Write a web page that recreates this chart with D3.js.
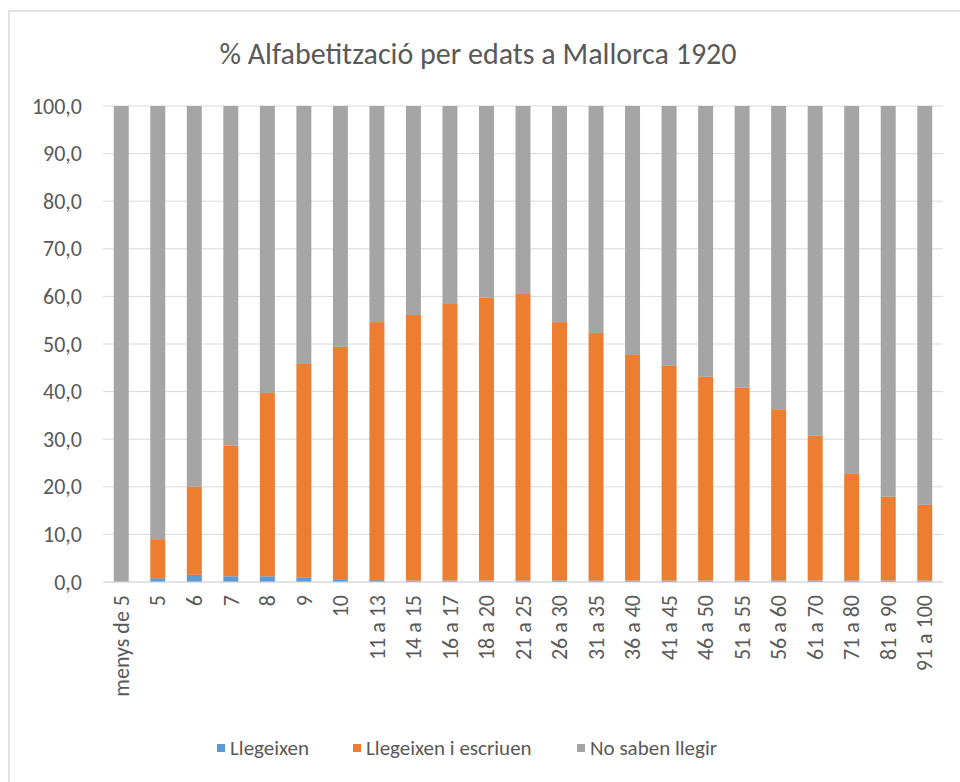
<!DOCTYPE html>
<html>
<head>
<meta charset="utf-8">
<script src="https://cdn.jsdelivr.net/npm/d3@7"></script>
<style>
  body { margin: 0; background: #fff; }
  text { font-family: Carlito, "Open Sans", "Liberation Sans", sans-serif; fill: #595959; }
</style>
</head>
<body>
<div id="chart"></div>
<script>
const categories = ["menys de 5", "5", "6", "7", "8", "9", "10", "11 a 13", "14 a 15", "16 a 17",
  "18 a 20", "21 a 25", "26 a 30", "31 a 35", "36 a 40", "41 a 45", "46 a 50", "51 a 55",
  "56 a 60", "61 a 70", "71 a 80", "81 a 90", "91 a 100"];
// Llegeixen (només llegir)
const llegeixen = [0, 0.8, 1.5, 1.2, 1.2, 1.0, 0.6, 0.4, 0.3, 0.3, 0.3, 0.3, 0.3, 0.3, 0.3, 0.3, 0.3, 0.3, 0.3, 0.3, 0.3, 0.3, 0.3];
// Llegeixen i escriuen
const escriuen = [0, 8.2, 18.5, 27.4, 38.5, 44.8, 48.8, 54.2, 55.8, 58.1, 59.4, 60.2, 54.3, 52.0, 47.4, 45.1, 42.8, 40.5, 36.0, 30.4, 22.4, 17.6, 15.9];
// No saben llegir
const noSaben = llegeixen.map((d, i) => +(100 - d - escriuen[i]).toFixed(1));
const yTicks = [0, 10, 20, 30, 40, 50, 60, 70, 80, 90, 100];
const seriesNames = ["Llegeixen", "Llegeixen i escriuen", "No saben llegir"];
const colors = ["#5B9BD5", "#ED7D31", "#A5A5A5"];

const W = 960, H = 782;
const margin = { top: 106, right: 17, bottom: 200, left: 103 };

const svg = d3.select("#chart").append("svg")
  .attr("width", W)
  .attr("height", H);

// chart frame
svg.append("rect")
  .attr("x", 9).attr("y", 11)
  .attr("width", 970).attr("height", 800)
  .attr("fill", "#fff")
  .attr("stroke", "#D9D9D9")
  .attr("stroke-width", 1.5);

svg.append("text")
  .attr("x", 478).attr("y", 64)
  .attr("text-anchor", "middle")
  .style("font-size", "30px")
  .text("% Alfabetització per edats a Mallorca 1920");

const x = d3.scaleBand()
  .domain(categories)
  .range([margin.left, W - margin.right])
  .paddingInner(0.59)
  .paddingOuter(0.295);

const y = d3.scaleLinear()
  .domain([0, 100])
  .range([H - margin.bottom, margin.top]);

// gridlines
svg.append("g")
  .selectAll("line")
  .data(yTicks)
  .enter().append("line")
  .attr("x1", margin.left).attr("x2", W - margin.right)
  .attr("y1", d => y(d)).attr("y2", d => y(d))
  .attr("stroke", "#D9D9D9")
  .attr("stroke-width", 1);

const yAxis = d3.axisLeft(y)
  .tickValues(yTicks)
  .tickSize(0)
  .tickPadding(21)
  .tickFormat(d => d3.format(".1f")(d).replace(".", ","));

svg.append("g")
  .attr("transform", "translate(" + margin.left + ",0)")
  .call(yAxis)
  .call(g => g.select(".domain").remove())
  .selectAll("text")
  .style("font-size", "22px")
  .style("fill", "#595959");

// stacked bars
const table = categories.map((c, i) => ({
  cat: c, a: llegeixen[i], b: escriuen[i], c2: noSaben[i]
}));
const stack = d3.stack().keys(["a", "b", "c2"]);
const layers = stack(table);

svg.append("g")
  .selectAll("g")
  .data(layers)
  .enter().append("g")
  .attr("fill", (d, i) => colors[i])
  .selectAll("rect")
  .data(d => d)
  .enter().append("rect")
  .attr("x", d => x(d.data.cat))
  .attr("width", x.bandwidth())
  .attr("y", d => y(d[1]))
  .attr("height", d => y(d[0]) - y(d[1]));

// baseline
svg.append("line")
  .attr("x1", margin.left).attr("x2", W - margin.right)
  .attr("y1", y(0)).attr("y2", y(0))
  .attr("stroke", "#D9D9D9");

// x labels, rotated
const xAxis = d3.axisBottom(x).tickSize(0).tickPadding(0);
svg.append("g")
  .attr("transform", "translate(0," + y(0) + ")")
  .call(xAxis)
  .call(g => g.select(".domain").remove())
  .selectAll("text")
  .attr("transform", "rotate(-90)")
  .attr("x", -13)
  .attr("y", 0)
  .attr("dy", "0.35em")
  .style("text-anchor", "end")
  .style("font-size", "22px")
  .style("fill", "#595959");

// legend
const legendX = [217, 353, 577];
const legend = svg.append("g")
  .selectAll("g")
  .data(seriesNames)
  .enter().append("g")
  .attr("transform", (d, i) => "translate(" + legendX[i] + ",748)");

legend.append("rect")
  .attr("x", 0).attr("y", -4)
  .attr("width", 8).attr("height", 8)
  .attr("fill", (d, i) => colors[i]);

legend.append("text")
  .attr("x", 13)
  .attr("y", 0)
  .attr("dy", "0.35em")
  .style("font-size", "21px")
  .text(d => d);
</script>
</body>
</html>
